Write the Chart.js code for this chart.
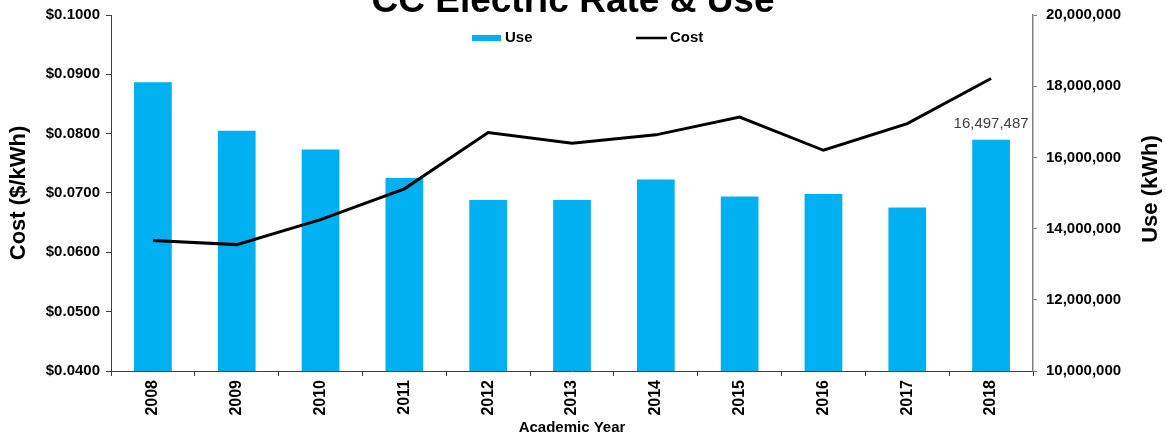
<!DOCTYPE html>
<html>
<head>
<meta charset="utf-8">
<title>CC Electric Rate & Use</title>
<script src="https://cdn.jsdelivr.net/npm/chart.js@4.4.1/dist/chart.umd.min.js"></script>
<style>
  html, body { margin: 0; padding: 0; background: #fff; }
  #chart { display: block; }
</style>
</head>
<body>
<canvas id="chart" width="1166" height="438"></canvas>
<script>
const years = ["2008", "2009", "2010", "2011", "2012", "2013", "2014", "2015", "2016", "2017", "2018"];

// kWh per academic year (bars, right axis)
const useKwh = [18110000, 16750000, 16220000, 15420000, 14800000, 14800000, 15380000, 14900000, 14970000, 14590000, 16497487];

// $/kWh (line, left axis)
const costPerKwh = [0.0620, 0.0613, 0.0655, 0.0707, 0.0802, 0.0784, 0.0798, 0.0828, 0.0772, 0.0817, 0.0893];

const costTicks = { min: 0.04, max: 0.10, step: 0.01 };
const useTicks = { min: 10000000, max: 20000000, step: 2000000 };

const labelledBar = 10; // only 2018 carries a value label

const FONT = "'Liberation Sans', Arial, sans-serif";
const BAR_BLUE = "#00B0F0";

/* ---------- PLUGIN: TITLE + LEGEND + RIGHT TITLE ---------- */

const decorations = {
  id: "decorations",
  afterDraw(chart) {
    const { ctx } = chart;
    ctx.save();

    // main title (clipped at the top like the original)
    ctx.fillStyle = "#000";
    ctx.font = "bold 37px " + FONT;
    ctx.textAlign = "center";
    ctx.textBaseline = "alphabetic";
    ctx.fillText("CC Electric Rate & Use", 573, 12);

    // legend
    ctx.font = "bold 15px " + FONT;
    ctx.textAlign = "left";
    ctx.textBaseline = "middle";
    ctx.fillStyle = BAR_BLUE;
    ctx.fillRect(472, 35, 29, 6);
    ctx.fillStyle = "#000";
    ctx.fillText("Use", 505, 38);

    ctx.strokeStyle = "#000";
    ctx.lineWidth = 2.5;
    ctx.beginPath();
    ctx.moveTo(636, 38);
    ctx.lineTo(667, 38);
    ctx.stroke();
    ctx.fillText("Cost", 670, 38);

    // right axis title reads bottom-to-top
    ctx.translate(1151, 189);
    ctx.rotate(-Math.PI / 2);
    ctx.font = "bold 22px " + FONT;
    ctx.textAlign = "center";
    ctx.fillText("Use (kWh)", 0, 0);
    ctx.restore();

    // value label on the last bar
    const bar = chart.getDatasetMeta(1).data[labelledBar];
    if (bar) {
      ctx.save();
      ctx.font = "15px " + FONT;
      ctx.fillStyle = "#404040";
      ctx.textAlign = "center";
      ctx.textBaseline = "middle";
      ctx.fillText(useKwh[labelledBar].toLocaleString("en-US"), bar.x, bar.y - 16);
      ctx.restore();
    }
  }
};

/* ---------- CHART ---------- */

new Chart(document.getElementById("chart"), {
  type: "bar",
  data: {
    labels: years,
    datasets: [
      {
        type: "line",
        label: "Cost",
        data: costPerKwh,
        yAxisID: "y",
        borderColor: "#000",
        borderWidth: 3,
        pointRadius: 0,
        tension: 0,
        fill: false,
        order: 0
      },
      {
        type: "bar",
        label: "Use",
        data: useKwh,
        yAxisID: "y1",
        backgroundColor: BAR_BLUE,
        borderWidth: 0,
        categoryPercentage: 1,
        barPercentage: 0.45,
        order: 1
      }
    ]
  },
  options: {
    responsive: false,
    animation: false,
    layout: { padding: { top: 15, left: 0, right: 0, bottom: 0 } },
    plugins: {
      legend: { display: false },
      title: { display: false },
      tooltip: { enabled: false }
    },
    scales: {
      x: {
        grid: { drawOnChartArea: false, drawTicks: true, tickLength: 5, color: "#404040", offset: true },
        border: { color: "#404040", width: 1 },
        ticks: {
          color: "#000",
          font: { family: FONT, size: 16, weight: "bold" },
          minRotation: 90,
          maxRotation: 90,
          padding: 4
        },
        title: {
          display: true,
          text: "Academic Year",
          color: "#000",
          font: { family: FONT, size: 15, weight: "bold" },
          padding: { top: 0, bottom: 1 }
        },
        afterFit(scale) { scale.height = 67; }
      },
      y: {
        position: "left",
        min: costTicks.min,
        max: costTicks.max,
        grid: { drawOnChartArea: false, drawTicks: true, tickLength: 5, color: "#404040" },
        border: { color: "#404040", width: 1 },
        ticks: {
          stepSize: costTicks.step,
          color: "#000",
          font: { family: FONT, size: 15, weight: "bold" },
          padding: 6,
          callback: v => "$" + Number(v).toFixed(4)
        },
        title: {
          display: true,
          text: "Cost ($/kWh)",
          color: "#000",
          font: { family: FONT, size: 22, weight: "bold" },
          padding: { top: 6, bottom: 0 }
        },
        afterFit(scale) {
          scale.width = 111;
          scale.paddingTop = 0;
          scale.paddingBottom = 0;
        }
      },
      y1: {
        position: "right",
        min: useTicks.min,
        max: useTicks.max,
        grid: { drawOnChartArea: false, drawTicks: true, tickLength: 4, color: "#808080" },
        border: { color: "#808080", width: 1.5 },
        ticks: {
          stepSize: useTicks.step,
          color: "#000",
          font: { family: FONT, size: 15, weight: "bold" },
          padding: 9,
          callback: v => Number(v).toLocaleString("en-US")
        },
        afterFit(scale) {
          scale.width = 133;
          scale.paddingTop = 0;
          scale.paddingBottom = 0;
        }
      }
    }
  },
  plugins: [decorations]
});
</script>
</body>
</html>
